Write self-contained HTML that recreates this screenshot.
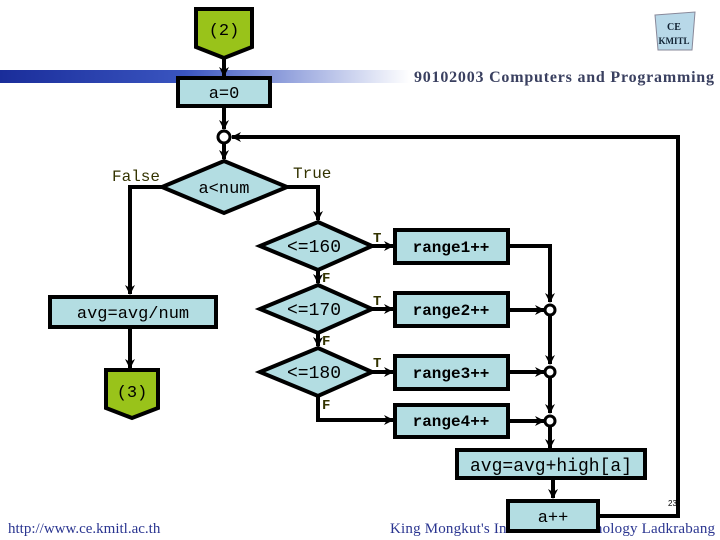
<!DOCTYPE html>
<html><head><meta charset="utf-8"><style>
html,body{margin:0;padding:0;background:#fff;width:720px;height:540px;overflow:hidden}
svg{display:block}
</style></head><body>
<svg width="720" height="540" viewBox="0 0 720 540" xmlns="http://www.w3.org/2000/svg">
<defs>
<linearGradient id="bar" x1="0" x2="1" y1="0" y2="0">
<stop offset="0" stop-color="#1a2d9a"/><stop offset="0.45" stop-color="#3a55c0"/><stop offset="1" stop-color="#ffffff"/>
</linearGradient>
<marker id="ar" markerWidth="10" markerHeight="10" refX="9" refY="5" orient="auto" markerUnits="userSpaceOnUse">
<path d="M0,0 L10,5 L0,10 L3,5 z" fill="#000"/></marker>
</defs>
<rect x="0" y="70" width="410" height="13" fill="url(#bar)"/>
<text x="714" y="82" text-anchor="end" font-family="Liberation Serif,serif" font-size="16" font-weight="bold" fill="#3a4060" textLength="300">90102003 Computers and Programming</text>
<g transform="translate(650,10)">
<path d="M5,5 L45,2 L42,40 L8,40 z" fill="#b8d8e8" stroke="#889" stroke-width="1"/>
<text x="24" y="20" text-anchor="middle" font-family="Liberation Serif,serif" font-size="10" font-weight="bold" fill="#123">CE</text>
<text x="24" y="34" text-anchor="middle" font-family="Liberation Serif,serif" font-size="9" font-weight="bold" fill="#123">KMITL</text>
</g>
<text x="8" y="533" font-family="Liberation Serif,serif" font-size="15" fill="#2a3590">http://www.ce.kmitl.ac.th</text>
<text x="390" y="533" font-family="Liberation Serif,serif" font-size="15" fill="#2a3590" textLength="325">King Mongkut's Institute of Technology Ladkrabang</text>
<text x="668" y="506" font-family="Liberation Sans,sans-serif" font-size="8" fill="#000">23</text>

<g stroke="#000" stroke-width="4" fill="none">
<line x1="224" y1="58" x2="224" y2="76" marker-end="url(#ar)"/>
<line x1="224" y1="106" x2="224" y2="129" marker-end="url(#ar)"/>
<line x1="224" y1="143" x2="224" y2="159" marker-end="url(#ar)"/>
<polyline points="598,516 678,516 678,137 232,137" marker-end="url(#ar)"/>
<polyline points="162,187 130,187 130,294" marker-end="url(#ar)"/>
<line x1="130" y1="327" x2="130" y2="368" marker-end="url(#ar)"/>
<polyline points="287,187 318,187 318,220" marker-end="url(#ar)"/>
<line x1="318" y1="270" x2="318" y2="283" marker-end="url(#ar)"/>
<line x1="318" y1="333" x2="318" y2="346" marker-end="url(#ar)"/>
<polyline points="318,396 318,420 393,420" marker-end="url(#ar)"/>
<line x1="372" y1="246" x2="393" y2="246" marker-end="url(#ar)"/>
<line x1="372" y1="309" x2="393" y2="309" marker-end="url(#ar)"/>
<line x1="372" y1="372" x2="393" y2="372" marker-end="url(#ar)"/>
<polyline points="508,246 550,246 550,302" marker-end="url(#ar)"/>
<line x1="508" y1="310" x2="544" y2="310" marker-end="url(#ar)"/>
<line x1="550" y1="316" x2="550" y2="364" marker-end="url(#ar)"/>
<line x1="508" y1="372" x2="544" y2="372" marker-end="url(#ar)"/>
<line x1="550" y1="378" x2="550" y2="413" marker-end="url(#ar)"/>
<line x1="508" y1="421" x2="544" y2="421" marker-end="url(#ar)"/>
<line x1="550" y1="427" x2="550" y2="448" marker-end="url(#ar)"/>
<line x1="553" y1="478" x2="553" y2="498" marker-end="url(#ar)"/>
</g>
<g stroke="#000" stroke-width="3" fill="#fff">
<circle cx="224" cy="137" r="6"/>
<circle cx="550" cy="310" r="5"/>
<circle cx="550" cy="372" r="5"/>
<circle cx="550" cy="421" r="5"/>
</g>
<g stroke="#000" stroke-width="4" fill="#b3dde2">
<path d="M196,9 L252,9 L252,47 L224,58 L196,47 z" fill="#99c31a"/>
<path d="M106,370 L158,370 L158,408 L132,418 L106,408 z" fill="#99c31a"/>
<rect x="178" y="78" width="92" height="28"/>
<polygon points="224,161 287,187 224,213 162,187"/>
<polygon points="318,222 372,246 318,270 260,246"/>
<polygon points="318,285 372,309 318,333 260,309"/>
<polygon points="318,348 372,372 318,396 260,372"/>
<rect x="395" y="230" width="113" height="33"/>
<rect x="395" y="293" width="113" height="33"/>
<rect x="395" y="356" width="113" height="33"/>
<rect x="395" y="405" width="113" height="32"/>
<rect x="50" y="297" width="166" height="30"/>
<rect x="457" y="450" width="188" height="28"/>
<rect x="508" y="501" width="90" height="30"/>
</g>
<g font-family="Liberation Mono,monospace" font-size="17" fill="#000" text-anchor="middle">
<text x="224" y="35">(2)</text>
<text x="132" y="397">(3)</text>
<text x="224" y="98">a=0</text>
<text x="224" y="193">a&lt;num</text>
<text x="314" y="252" font-size="18">&lt;=160</text>
<text x="314" y="315" font-size="18">&lt;=170</text>
<text x="314" y="378" font-size="18">&lt;=180</text>
<text x="133" y="318">avg=avg/num</text>
<text x="551" y="471" font-size="18">avg=avg+high[a]</text>
<text x="553" y="522">a++</text>
</g>
<g font-family="Liberation Mono,monospace" font-size="16" font-weight="bold" fill="#000" text-anchor="middle">
<text x="451" y="252">range1++</text>
<text x="451" y="315">range2++</text>
<text x="451" y="378">range3++</text>
<text x="451" y="426">range4++</text>
</g>
<g font-family="Liberation Mono,monospace" font-size="16" fill="#333300">
<text x="112" y="181">False</text>
<text x="293" y="178">True</text>
</g>
<g font-family="Liberation Mono,monospace" font-size="14" font-weight="bold" fill="#333300">
<text x="373" y="242">T</text>
<text x="373" y="305">T</text>
<text x="373" y="367">T</text>
<text x="322" y="282">F</text>
<text x="322" y="345">F</text>
<text x="322" y="409">F</text>
</g>
</svg>
</body></html>
